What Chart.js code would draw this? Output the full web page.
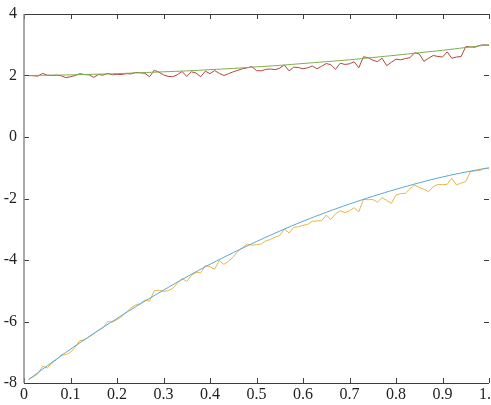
<!DOCTYPE html>
<html>
<head>
<meta charset="utf-8">
<script src="https://cdn.jsdelivr.net/npm/chart.js@4"></script>
<style>
  html, body { margin: 0; padding: 0; background: #fff; }
  #wrap { width: 491px; height: 405px; }
</style>
</head>
<body>
<div id="wrap"><canvas id="grafica"></canvas></div>
<script>
// x positions of the noisy samples (0.01 .. 1.00)
const xRuido = [
  0.01, 0.02, 0.03, 0.04, 0.05, 0.06, 0.07, 0.08, 0.09, 0.10,
  0.11, 0.12, 0.13, 0.14, 0.15, 0.16, 0.17, 0.18, 0.19, 0.20,
  0.21, 0.22, 0.23, 0.24, 0.25, 0.26, 0.27, 0.28, 0.29, 0.30,
  0.31, 0.32, 0.33, 0.34, 0.35, 0.36, 0.37, 0.38, 0.39, 0.40,
  0.41, 0.42, 0.43, 0.44, 0.45, 0.46, 0.47, 0.48, 0.49, 0.50,
  0.51, 0.52, 0.53, 0.54, 0.55, 0.56, 0.57, 0.58, 0.59, 0.60,
  0.61, 0.62, 0.63, 0.64, 0.65, 0.66, 0.67, 0.68, 0.69, 0.70,
  0.71, 0.72, 0.73, 0.74, 0.75, 0.76, 0.77, 0.78, 0.79, 0.80,
  0.81, 0.82, 0.83, 0.84, 0.85, 0.86, 0.87, 0.88, 0.89, 0.90,
  0.91, 0.92, 0.93, 0.94, 0.95, 0.96, 0.97, 0.98, 0.99, 1.00
];

const rojoRuido = [
  2.00, 1.99, 1.98, 2.07, 2.01, 2.00, 2.01, 1.99, 1.93, 1.96,
  2.00, 2.06, 2.03, 2.02, 1.94, 2.03, 2.01, 2.07, 2.02, 2.04,
  2.03, 2.06, 2.05, 2.10, 2.09, 2.07, 1.96, 2.17, 2.11, 2.02,
  1.97, 1.96, 2.03, 2.13, 1.97, 2.12, 2.08, 1.96, 2.14, 2.06,
  2.16, 2.07, 2.00, 2.06, 2.12, 2.17, 2.22, 2.25, 2.29, 2.16,
  2.15, 2.20, 2.21, 2.19, 2.24, 2.34, 2.15, 2.27, 2.26, 2.22,
  2.25, 2.31, 2.22, 2.30, 2.39, 2.35, 2.20, 2.40, 2.36, 2.38,
  2.45, 2.25, 2.61, 2.58, 2.50, 2.45, 2.56, 2.32, 2.43, 2.53,
  2.51, 2.55, 2.58, 2.74, 2.70, 2.46, 2.56, 2.65, 2.62, 2.60,
  2.77, 2.56, 2.60, 2.62, 2.94, 2.93, 2.92, 2.98, 3.00, 2.98
];

const naranjaRuido = [
  -7.88, -7.80, -7.70, -7.46, -7.50, -7.36, -7.24, -7.08, -7.08, -7.00,
  -6.84, -6.62, -6.60, -6.50, -6.40, -6.28, -6.20, -6.00, -6.02, -5.94,
  -5.84, -5.70, -5.56, -5.46, -5.42, -5.30, -5.34, -5.00, -4.98, -5.02,
  -5.00, -4.92, -4.75, -4.60, -4.70, -4.50, -4.40, -4.42, -4.18, -4.22,
  -4.30, -4.02, -4.14, -4.04, -3.90, -3.72, -3.60, -3.48, -3.52, -3.50,
  -3.48, -3.38, -3.33, -3.26, -3.20, -2.99, -3.12, -2.94, -2.92, -2.87,
  -2.84, -2.74, -2.73, -2.72, -2.54, -2.68, -2.50, -2.40, -2.46, -2.40,
  -2.30, -2.43, -2.03, -2.04, -2.03, -2.12, -1.97, -2.06, -2.16, -1.89,
  -1.84, -1.83, -1.68, -1.56, -1.64, -1.70, -1.78, -1.62, -1.54, -1.55,
  -1.54, -1.34, -1.56, -1.50, -1.45, -1.13, -1.10, -1.09, -1.02, -1.04
];

// smooth reference curves
const xSuave = [
  0.01, 0.05, 0.10, 0.15, 0.20, 0.25, 0.30, 0.35, 0.40, 0.45, 0.50,
  0.55, 0.60, 0.65, 0.70, 0.75, 0.80, 0.85, 0.90, 0.95, 1.00
];
const verdeSuave = [
  2.00, 2.01, 2.02, 2.04, 2.06, 2.09, 2.12, 2.15, 2.19, 2.23, 2.28,
  2.33, 2.39, 2.45, 2.51, 2.585, 2.66, 2.74, 2.82, 2.91, 3.00
];
const azulSuave = [
  -7.89, -7.44, -6.90, -6.39, -5.90, -5.43, -4.98, -4.55, -4.14, -3.76, -3.40,
  -3.06, -2.74, -2.45, -2.18, -1.93, -1.70, -1.49, -1.30, -1.14, -1.00
];

const xTicks = [0, 0.1, 0.2, 0.3, 0.4, 0.5, 0.6, 0.7, 0.8, 0.9, 1];
const yTicks = [-8, -6, -4, -2, 0, 2, 4];

function puntos(xs, ys) {
  return xs.map((x, i) => ({ x: x, y: ys[i] }));
}

// box round the plot with inward tick marks, like the original
const cajaTicks = {
  id: "cajaTicks",
  afterDraw(chart) {
    const { ctx, chartArea: a, scales } = chart;
    const len = 5;
    ctx.save();
    ctx.lineWidth = 1;
    ctx.strokeStyle = "#3c3c3c";
    ctx.beginPath();
    ctx.moveTo(a.left, a.top + 0.5); ctx.lineTo(a.right, a.top + 0.5);
    ctx.moveTo(a.left, a.bottom + 0.5); ctx.lineTo(a.right, a.bottom + 0.5);
    xTicks.forEach(v => {
      const px = Math.round(scales.x.getPixelForValue(v)) + 0.5;
      ctx.moveTo(px, a.top); ctx.lineTo(px, a.top + len);
      ctx.moveTo(px, a.bottom); ctx.lineTo(px, a.bottom - len);
    });
    yTicks.forEach(v => {
      const py = Math.round(scales.y.getPixelForValue(v)) + 0.5;
      ctx.moveTo(a.left, py); ctx.lineTo(a.left + len, py);
      ctx.moveTo(a.right, py); ctx.lineTo(a.right - len, py);
    });
    ctx.stroke();
    ctx.strokeStyle = "#8c8c8c";
    ctx.lineWidth = 1.5;
    ctx.beginPath();
    ctx.moveTo(a.left, a.top); ctx.lineTo(a.left, a.bottom);
    ctx.stroke();
    ctx.restore();
  }
};

const fuente = { family: "'Liberation Serif', 'DejaVu Serif', serif", size: 16 };

new Chart(document.getElementById("grafica"), {
  type: "line",
  data: {
    datasets: [
      {
        label: "ruido superior",
        data: puntos(xRuido, rojoRuido),
        borderColor: "#b0473a",
        borderWidth: 1,
        pointRadius: 0,
        tension: 0,
        order: 4,
      },
      {
        label: "curva superior",
        data: puntos(xSuave, verdeSuave),
        borderColor: "#7fae4a",
        borderWidth: 1,
        pointRadius: 0,
        tension: 0.4,
        order: 2,
      },
      {
        label: "ruido inferior",
        data: puntos(xRuido, naranjaRuido),
        borderColor: "#eab546",
        borderWidth: 1,
        pointRadius: 0,
        tension: 0,
        order: 3,
      },
      {
        label: "curva inferior",
        data: puntos(xSuave, azulSuave),
        borderColor: "#55a9d6",
        borderWidth: 1,
        pointRadius: 0,
        tension: 0.4,
        order: 1,
      },
    ],
  },
  options: {
    responsive: true,
    maintainAspectRatio: false,
    animation: false,
    layout: { padding: { left: 0, right: 2, top: 14, bottom: 0 } },
    plugins: {
      legend: { display: false },
      tooltip: { enabled: false },
    },
    scales: {
      x: {
        type: "linear",
        min: 0,
        max: 1,
        afterBuildTicks: (scale) => { scale.ticks = xTicks.map(v => ({ value: v })); },
        ticks: { color: "#222", font: fuente, padding: 2, maxRotation: 0, autoSkip: false },
        grid: { display: false, drawTicks: false },
        border: { display: false },
        afterFit: (scale) => {
          scale.paddingLeft = 0;
          scale.paddingRight = 0;
          scale.height = 22;
        },
      },
      y: {
        type: "linear",
        min: -8,
        max: 4,
        afterBuildTicks: (scale) => { scale.ticks = yTicks.map(v => ({ value: v })); },
        ticks: { color: "#222", font: fuente, padding: 7 },
        grid: { display: false, drawTicks: false },
        border: { display: false },
        afterFit: (scale) => {
          scale.paddingTop = 0;
          scale.paddingBottom = 0;
          scale.width = 24;
        },
      },
    },
  },
  plugins: [cajaTicks],
});
</script>
</body>
</html>
